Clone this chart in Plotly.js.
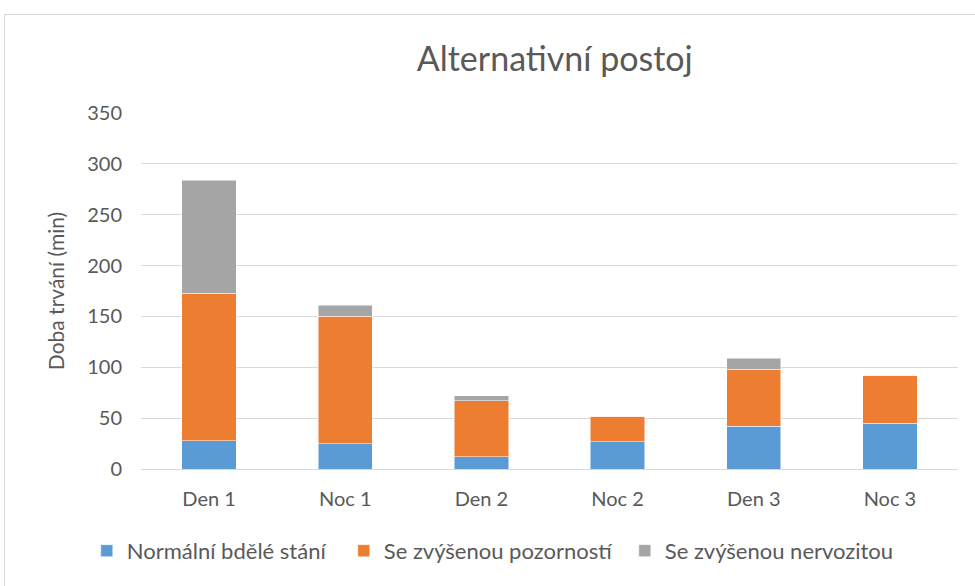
<!DOCTYPE html>
<html>
<head>
<meta charset="utf-8">
<script src="https://cdn.plot.ly/plotly-3.0.1.min.js"></script>
<style>
html,body{margin:0;padding:0;background:#fff;}
#wrap{position:relative;width:975px;height:586px;overflow:hidden;}
#chart{width:975px;height:586px;}
#frame{position:absolute;left:4px;top:14px;width:1000px;height:600px;border:1px solid #d9d9d9;pointer-events:none;}
</style>
</head>
<body>
<div id="wrap"><div id="chart"></div><div id="frame"></div></div>
<script>
const categories = ["Den 1", "Noc 1", "Den 2", "Noc 2", "Den 3", "Noc 3"];
const normalni = [28, 25, 12, 27, 42, 45];
const pozornost = [145, 125, 55, 25, 56, 47];
const nervozita = [111, 11, 5, 0, 11, 0];
const seriesNames = ["Normální bdělé stání", "Se zvýšenou pozorností", "Se zvýšenou nervozitou"];
const colors = ["#5B9BD5", "#ED7D31", "#A5A5A5"];
const legendWidths = [212, 236, 230];

const font = "Lato, 'Open Sans', sans-serif";
const traces = [normalni, pozornost, nervozita].map((vals, i) => ({
  type: "bar",
  x: categories,
  y: vals,
  name: seriesNames[i],
  legendwidth: legendWidths[i],
  marker: {color: colors[i], line: {color: "#ffffff", width: 0.5}},
  hoverinfo: "x+y+name"
}));

const layout = {
  width: 975, height: 586,
  barmode: "stack",
  bargap: 0.6,
  paper_bgcolor: "#ffffff",
  plot_bgcolor: "#ffffff",
  margin: {l: 141, r: 17, t: 113, b: 117},
  font: {family: font, color: "#595959", size: 20},
  title: {
    text: "Alternativní postoj",
    font: {family: font, size: 34, color: "#595959"},
    x: 0.569, xref: "container", xanchor: "center",
    y: 0.9, yref: "container", yanchor: "middle"
  },
  xaxis: {
    type: "category",
    showgrid: false,
    showline: true, linecolor: "#d9d9d9", linewidth: 1,
    ticks: "",
    ticklabelstandoff: 12,
    tickfont: {family: font, size: 20, color: "#595959"},
    fixedrange: true
  },
  yaxis: {
    range: [0, 350],
    tickvals: [0, 50, 100, 150, 200, 250, 300, 350],
    showgrid: true, gridcolor: "#d9d9d9", gridwidth: 1,
    zeroline: false, showline: false, ticks: "",
    ticklabelstandoff: 18,
    tickfont: {family: font, size: 20, color: "#595959"},
    title: {text: "Doba trvání (min)", font: {family: font, size: 21, color: "#595959"}, standoff: 16},
    fixedrange: true
  },
  legend: {
    orientation: "h",
    x: 0.089, xref: "container", xanchor: "left",
    y: 0.06, yref: "container", yanchor: "middle",
    font: {family: font, size: 22, color: "#595959"},
    traceorder: "normal"
  },
  showlegend: true
};

Plotly.newPlot("chart", traces, layout, {displayModeBar: false, staticPlot: true});
</script>
</body>
</html>
